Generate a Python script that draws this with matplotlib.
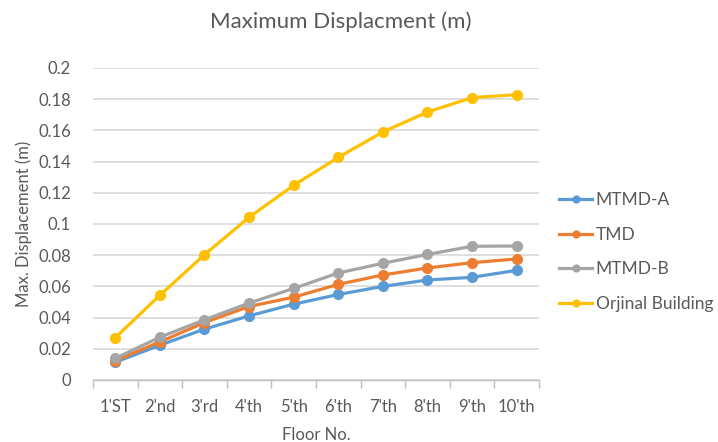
import numpy as np
import matplotlib.pyplot as plt

floors = ["1'ST", "2'nd", "3'rd", "4'th", "5'th", "6'th", "7'th", "8'th", "9'th", "10'th"]
mtmd_a = [0.0114, 0.0223, 0.0326, 0.0411, 0.0486, 0.0548, 0.0600, 0.0641, 0.0658, 0.0703]
tmd = [0.0124, 0.0244, 0.0368, 0.0471, 0.0531, 0.0613, 0.0673, 0.0718, 0.0752, 0.0776]
mtmd_b = [0.0139, 0.0274, 0.0386, 0.0493, 0.0587, 0.0686, 0.0748, 0.0805, 0.0857, 0.0859]
orjinal = [0.0271, 0.0543, 0.0803, 0.1043, 0.1248, 0.1427, 0.1590, 0.1718, 0.1810, 0.1829]

plt.rcParams['font.family'] = ['Lato', 'DejaVu Sans']
txt = '#595959'

fig = plt.figure(figsize=(7.18, 4.42), dpi=100)
ax = fig.add_axes([0.1295, 0.1403, 0.6212, 0.7059])

x = np.arange(len(floors))
series = [(mtmd_a, 'MTMD-A', '#5B9BD5'),
          (tmd, 'TMD', '#ED7D31'),
          (mtmd_b, 'MTMD-B', '#A5A5A5'),
          (orjinal, 'Orjinal Building', '#FFC000')]
for vals, name, col in series:
    ax.plot(x, vals, color=col, lw=2.3, marker='o', ms=7, label=name)

ax.set_xlim(-0.5, 9.5)
ax.set_ylim(0, 0.2)
ax.set_yticks(np.arange(0, 0.201, 0.02))
ax.set_yticklabels(['0'] + ['%g' % v for v in np.arange(0.02, 0.201, 0.02)])
ax.grid(axis='y', color='#D9D9D9', lw=1.2)
ax.set_axisbelow(True)

# category labels centred, ticks on the boundaries
ax.set_xticks(x)
ax.set_xticklabels(floors)
ax.set_xticks(np.arange(-0.5, 10, 1), minor=True)
ax.tick_params(axis='x', which='major', length=0, pad=14, labelsize=12, labelcolor=txt)
ax.tick_params(axis='x', which='minor', length=6, color='#BFBFBF', width=1)
ax.tick_params(axis='y', length=0, pad=16, labelsize=12, labelcolor=txt)

for s in ['top', 'right', 'left']:
    ax.spines[s].set_visible(False)
ax.spines['bottom'].set_color('#BFBFBF')
ax.spines['bottom'].set_linewidth(1)

ax.set_xlabel('Floor No.', fontsize=12, color=txt, labelpad=8)
ax.set_ylabel('Max. Displacement (m)', fontsize=12, color=txt, labelpad=4)
fig.text(0.475, 0.952, 'Maximum Displacment (m)', fontsize=16, color=txt,
         ha='center', va='center')

ax.legend(loc='center left', bbox_to_anchor=(1.01, 0.41), frameon=False,
          fontsize=12.5, labelcolor=txt, handlelength=1.9, handletextpad=0.2,
          labelspacing=1.07, markerscale=0.7)

fig.savefig('out.png', dpi=100)
